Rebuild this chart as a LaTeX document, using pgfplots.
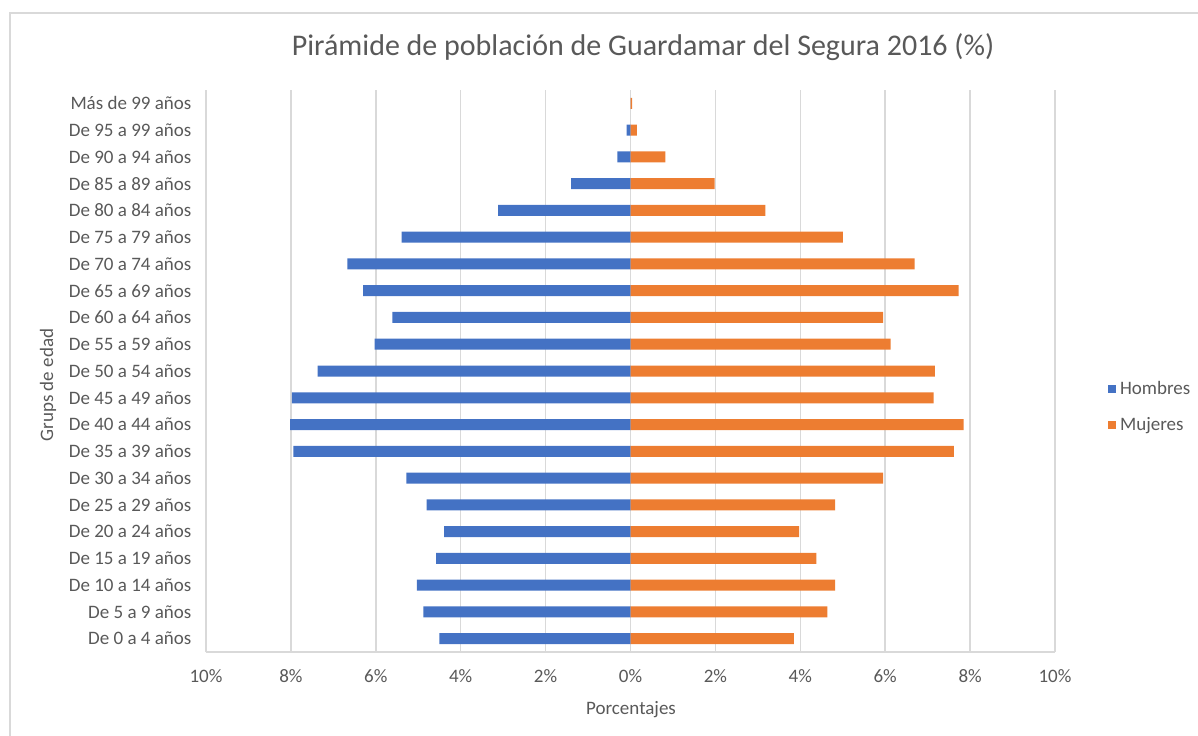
\documentclass[border=0pt]{standalone}
\usepackage{fontspec}
\setmainfont{Carlito}
\usepackage{pgfplots}
\pgfplotsset{compat=1.18}
\definecolor{hom}{HTML}{4472C4}
\definecolor{muj}{HTML}{ED7D31}
\definecolor{txt}{HTML}{595959}
\definecolor{grd}{HTML}{D9D9D9}
\begin{document}
\begin{tikzpicture}
\path[use as bounding box] (0,0) rectangle (599pt,367.5pt);
\draw[grd, line width=0.6pt] (5pt,-5pt) -- (5pt,361pt) -- (605pt,361pt);
\begin{axis}[
  at={(103pt,41.5pt)}, anchor=south west,
  scale only axis, width=424.5pt, height=281pt,
  xbar, bar width=5.5pt, bar shift=0pt,
  xmin=-10, xmax=10, ymin=-0.5, ymax=20.5,
  xtick={-10,-8,-6,-4,-2,0,2,4,6,8,10},
  xticklabels={10\%,8\%,6\%,4\%,2\%,0\%,2\%,4\%,6\%,8\%,10\%},
  ytick={0,...,20},
  yticklabels={De 0 a 4 años,De 5 a 9 años,De 10 a 14 años,De 15 a 19 años,De 20 a 24 años,De 25 a 29 años,De 30 a 34 años,De 35 a 39 años,De 40 a 44 años,De 45 a 49 años,De 50 a 54 años,De 55 a 59 años,De 60 a 64 años,De 65 a 69 años,De 70 a 74 años,De 75 a 79 años,De 80 a 84 años,De 85 a 89 años,De 90 a 94 años,De 95 a 99 años,Más de 99 años},
  tick style={draw=none},
  xmajorgrids, major grid style={grd, line width=0.75pt},
  axis line style={draw=none},
  ticklabel style={font=\fontsize{9.5}{11}\selectfont, text=txt},
  xticklabel style={yshift=-5pt},
  yticklabel style={xshift=0.5pt},
  legend style={at={(1.055,0.436)}, anchor=west, draw=none, fill=none,
    font=\fontsize{9.5}{11}\selectfont, text=txt, row sep=6pt,
    legend cell align=left},
  legend image code/.code={\fill[#1] (0pt,-2pt) rectangle (4pt,2pt);},
]
\draw[grd, line width=0.75pt] (axis cs:-10,-0.5) -- (axis cs:10,-0.5);
\addplot[fill=hom, draw=none] coordinates {
(-4.50,0) (-4.88,1) (-5.03,2) (-4.58,3) (-4.39,4) (-4.80,5) (-5.28,6) (-7.94,7) (-8.02,8) (-7.98,9) (-7.37,10) (-6.03,11) (-5.61,12) (-6.30,13) (-6.67,14) (-5.39,15) (-3.12,16) (-1.40,17) (-0.31,18) (-0.09,19) (0,20)};
\addlegendentry{Hombres}
\addplot[fill=muj, draw=none] coordinates {
(3.85,0) (4.64,1) (4.82,2) (4.38,3) (3.97,4) (4.82,5) (5.95,6) (7.62,7) (7.85,8) (7.14,9) (7.17,10) (6.13,11) (5.95,12) (7.73,13) (6.69,14) (5.00,15) (3.18,16) (1.98,17) (0.82,18) (0.15,19) (0.04,20)};
\addlegendentry{Mujeres}
\end{axis}
\node[text=txt, font=\fontsize{15}{18}\selectfont] at (321.5pt,344pt) {Pirámide de población de Guardamar del Segura 2016 (\%)};
\node[text=txt, font=\fontsize{9.5}{11}\selectfont] at (315.5pt,12.5pt) {Porcentajes};
\node[text=txt, font=\fontsize{9.5}{11}\selectfont, rotate=90] at (24pt,175pt) {Grups de edad};
\end{tikzpicture}
\end{document}
